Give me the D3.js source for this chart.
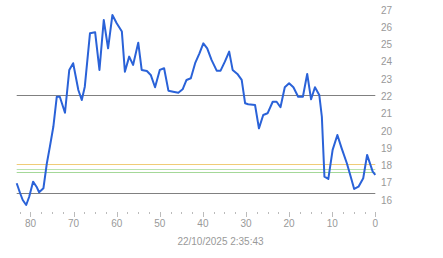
<!DOCTYPE html>
<html>
<head>
<meta charset="utf-8">
<script src="https://cdn.jsdelivr.net/npm/d3@7"></script>
<style>
  body { margin: 0; background: #fff; }
  text { font-family: "Liberation Sans", Arial, sans-serif; font-size: 10px; fill: #999; }
</style>
</head>
<body>
<div id="viz"></div>
<script>
//DATA
//x = minutes ago (axis runs right to left), y = price
const minutesAgo = [83.2, 82.4, 81.8, 81.0, 80.3, 79.4, 78.6, 78.0, 77.0, 76.2,
  75.5, 74.7, 73.9, 73.2, 72.0, 71.0, 70.1, 68.9, 68.1, 67.4,
  66.2, 65.0, 64.0, 63.0, 62.0, 61.0, 60.0, 58.8, 58.1, 57.1,
  56.2, 55.0, 54.2, 53.0, 52.1, 51.1, 50.0, 49.0, 48.0, 46.9,
  45.7, 44.7, 43.8, 42.8, 41.8, 40.8, 39.9, 39.0, 38.0, 36.8,
  35.9, 34.9, 33.9, 33.1, 32.0, 31.0, 30.2, 29.5, 27.9, 27.0,
  26.0, 25.0, 23.8, 22.9, 22.0, 21.0, 20.0, 19.0, 17.9, 16.8,
  15.8, 14.9, 14.0, 13.0, 12.4, 11.8, 10.9, 9.9, 8.8, 7.8,
  6.6, 5.7, 4.9, 3.9, 2.8, 1.9, 0.6, 0];
const price = [16.97, 16.39, 16.0, 15.71, 16.19, 17.06, 16.77, 16.45, 16.68, 18.13,
  19.09, 20.24, 21.98, 21.98, 21.05, 23.53, 23.92, 22.37, 21.79, 22.56,
  25.65, 25.71, 23.53, 26.42, 24.78, 26.71, 26.23, 25.75, 23.43, 24.3,
  23.82, 25.11, 23.53, 23.47, 23.24, 22.53, 23.53, 23.63, 22.33, 22.27,
  22.21, 22.41, 22.95, 23.05, 23.92, 24.49, 25.07, 24.78, 24.11, 23.49,
  23.49, 24.01, 24.59, 23.53, 23.3, 22.95, 21.6, 21.54, 21.5, 20.15,
  20.92, 21.02, 21.69, 21.69, 21.37, 22.53, 22.76, 22.53, 21.98, 21.98,
  23.3, 21.83, 22.53, 22.08, 20.82, 17.35, 17.22, 18.9, 19.76, 18.99,
  18.13, 17.35, 16.64, 16.77, 17.26, 18.61, 17.64, 17.45];

//reference levels drawn as flat lines across the chart
const refLevels = [22.06, 16.41, 18.07, 17.78, 17.6];
const refColors = ["#808080", "#808080", "#f0cc78", "#b9e2ae", "#a4d898"];

//axis labels
const yTickValues = [16, 17, 18, 19, 20, 21, 22, 23, 24, 25, 26, 27];
const xTickValues = [80, 70, 60, 50, 40, 30, 20, 10, 0];
const stampLabel = "22/10/2025 2:35:43";

//CANVAS SETUP
const width = 443, height = 258;
const svg = d3.select("#viz")
  .append("svg")
  .attr("width", width)
  .attr("height", height);

//SCALES (x is reversed: 0 on the right)
const x = d3.scaleLinear().domain([83.2, 0]).range([16.7, 375.3]);
const y = d3.scaleLinear().domain([16, 27]).range([200, 10]);

//reference lines
refLevels.forEach((lvl, i) => {
  svg.append("line")
    .attr("x1", x(83.2))
    .attr("x2", x(0))
    .attr("y1", Math.round(y(lvl)) + 0.5)
    .attr("y2", Math.round(y(lvl)) + 0.5)
    .attr("stroke", refColors[i])
    .attr("stroke-width", 1);
});

//minor ticks every 2.5, longer ones on the labelled tens
const minorTicks = d3.range(0, 83, 2.5);
svg.selectAll("line.tick")
  .data(minorTicks)
  .enter()
  .append("line")
  .attr("class", "tick")
  .attr("x1", d => Math.round(x(d)) + 0.5)
  .attr("x2", d => Math.round(x(d)) + 0.5)
  .attr("y1", 212)
  .attr("y2", d => d % 10 === 0 ? 217 : 214)
  .attr("stroke", "#bbb")
  .attr("stroke-width", 1);

//x labels
svg.selectAll("text.xlab")
  .data(xTickValues)
  .enter()
  .append("text")
  .attr("class", "xlab")
  .attr("x", d => x(d))
  .attr("y", 227)
  .attr("text-anchor", "middle")
  .text(d => d);

//y labels on the right side
svg.selectAll("text.ylab")
  .data(yTickValues)
  .enter()
  .append("text")
  .attr("class", "ylab")
  .attr("x", 381)
  .attr("y", d => y(d) + 3.6)
  .text(d => d);

//timestamp under the axis
svg.append("text")
  .attr("x", 220.5)
  .attr("y", 245)
  .attr("text-anchor", "middle")
  .text(stampLabel);

//price line
const pts = minutesAgo.map((m, i) => [m, price[i]]);
const line = d3.line()
  .x(d => x(d[0]))
  .y(d => y(d[1]));

svg.append("path")
  .datum(pts)
  .attr("d", line)
  .attr("fill", "none")
  .attr("stroke", "#2a62d8")
  .attr("stroke-width", 2)
  .attr("stroke-linejoin", "round");
</script>
</body>
</html>
